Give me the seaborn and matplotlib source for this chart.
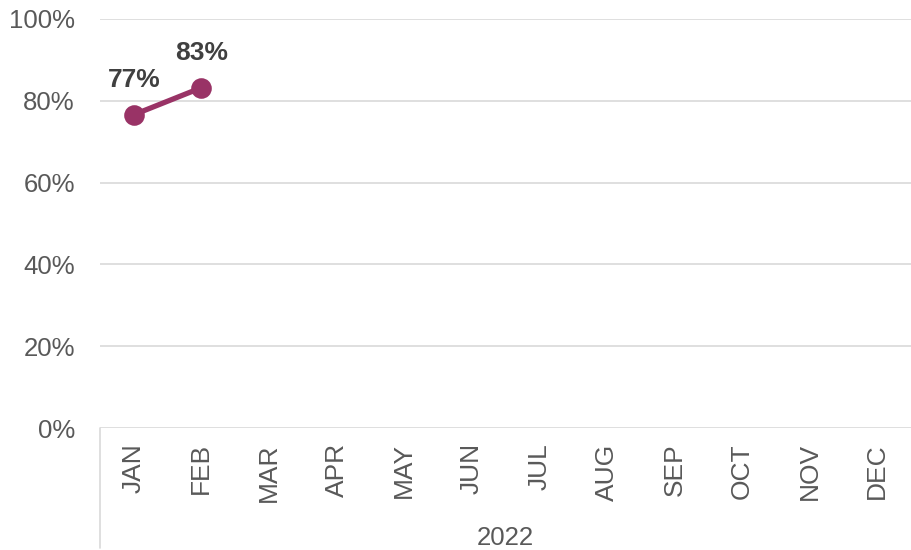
import numpy as np
import pandas as pd
import seaborn as sns
import matplotlib.pyplot as plt

months = ['JAN', 'FEB', 'MAR', 'APR', 'MAY', 'JUN',
          'JUL', 'AUG', 'SEP', 'OCT', 'NOV', 'DEC']
observed_months = ['JAN', 'FEB']
rates = [0.766, 0.832]
rate_labels = ['77%', '83%']
year_label = '2022'
y_ticks = [0, 0.2, 0.4, 0.6, 0.8, 1.0]

line_color = '#993366'
text_color = '#595959'
grid_color = '#D9D9D9'

sns.set_theme(style='white')
plt.rcParams['font.family'] = ['Liberation Sans', 'DejaVu Sans']

df = pd.DataFrame({'month': observed_months, 'rate': rates})

fig = plt.figure(figsize=(9.11, 5.5), dpi=100)
ax = fig.add_axes([100 / 911, 1 - 428 / 550, 1 - 100 / 911, (428 - 19) / 550])

sns.pointplot(data=df, x='month', y='rate', order=months, color=line_color,
              markers='o', markersize=12, linewidth=3.8, ax=ax)

ax.set_xlim(-0.5, len(months) - 0.5)
ax.set_ylim(0, 1.0)
ax.set_yticks(y_ticks)
ax.set_yticklabels([f'{int(round(t * 100))}%' for t in y_ticks])
ax.set_xticks(range(len(months)))
ax.set_xticklabels(months, rotation=90, va='top')
ax.tick_params(axis='y', length=0, pad=18, labelsize=18.5, labelcolor=text_color)
ax.tick_params(axis='x', length=0, pad=11, labelsize=19, labelcolor=text_color)
ax.set_xlabel('')
ax.set_ylabel('')

for t in y_ticks:
    ax.axhline(t, color=grid_color, linewidth=1.2, zorder=0)

for s in ax.spines.values():
    s.set_visible(False)

# data labels
for m, v, lab in zip(observed_months, rates, rate_labels):
    ax.annotate(lab, (months.index(m), v), xytext=(0, 25), textcoords='offset points',
                ha='center', va='center', fontsize=19, fontweight='bold', color='#404040')

# group box line + year label under the month labels
ax.plot([0, 0], [0, -120 / 409], transform=ax.transAxes, color=grid_color,
        linewidth=1.2, clip_on=False)
ax.text(0.5, -110 / 409, year_label, transform=ax.transAxes, ha='center', va='center',
        fontsize=18.5, color=text_color)

fig.savefig('out.png', dpi=100)
